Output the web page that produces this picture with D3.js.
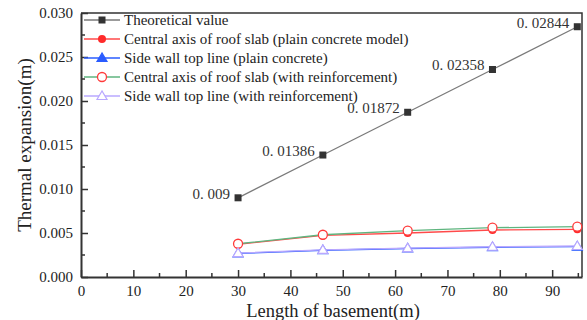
<!DOCTYPE html>
<html lang="en">
<head>
<meta charset="UTF-8" />
<title>Thermal expansion vs length of basement</title>
<script src="https://d3js.org/d3.v7.min.js"></script>
<style>
  body { margin: 0; background: #fff; }
</style>
</head>
<body>
<svg width="587" height="320"></svg>
<script>
// Data
const lengths = [30, 46.2, 62.4, 78.6, 94.8];
const theoretical = [0.009, 0.01386, 0.01872, 0.02358, 0.02844];
const roofPlain = [0.00372, 0.00472, 0.00500, 0.00534, 0.00542];
const wallPlain = [0.00268, 0.00304, 0.00324, 0.00338, 0.00345];
const roofReinf = [0.00378, 0.00480, 0.00526, 0.00560, 0.00572];
const wallReinf = [0.00272, 0.00308, 0.00328, 0.00344, 0.00352];
const pointLabels = ["0. 009", "0. 01386", "0. 01872", "0. 02358", "0. 02844"];

const series = [
  { name: "Theoretical value", values: theoretical, line: "#7a7a7a", marker: "square" },
  { name: "Central axis of roof slab (plain concrete model)", values: roofPlain, line: "#ff4a4a", marker: "circle" },
  { name: "Side wall top line (plain concrete)", values: wallPlain, line: "#2a5cff", marker: "triangle" },
  { name: "Central axis of roof slab (with reinforcement)", values: roofReinf, line: "#5fb57f", marker: "opencircle" },
  { name: "Side wall top line (with reinforcement)", values: wallReinf, line: "#b9a8ff", marker: "opentriangle" }
];

const FONT = "'Liberation Serif', 'DejaVu Serif', serif";
const svg = d3.select("svg").style("font-family", FONT);
const M = { left: 81, right: 5, top: 13, bottom: 43 };
const W = 587, H = 320;

const x = d3.scaleLinear().domain([0, 95.7]).range([M.left, W - M.right]);
const y = d3.scaleLinear().domain([0, 0.030]).range([H - M.bottom, M.top]);

// frame top/right
svg.append("path")
  .attr("d", `M${M.left},${M.top}H${W - M.right}V${H - M.bottom}`)
  .attr("fill", "none").attr("stroke", "#333").attr("stroke-width", 1.5);

// minor ticks
const g = svg.append("g");
d3.range(5, 96, 10).forEach(v => {
  g.append("line").attr("x1", x(v)).attr("x2", x(v))
    .attr("y1", H - M.bottom).attr("y2", H - M.bottom - 4)
    .attr("stroke", "#333").attr("stroke-width", 1.5);
});
d3.range(0.0025, 0.03, 0.005).forEach(v => {
  g.append("line").attr("x1", M.left).attr("x2", M.left + 4)
    .attr("y1", y(v)).attr("y2", y(v))
    .attr("stroke", "#333").attr("stroke-width", 1.5);
});

// axes
const xAxis = svg.append("g").attr("transform", `translate(0,${H - M.bottom})`)
  .call(d3.axisBottom(x).tickValues(d3.range(0, 91, 10)).tickSizeInner(-7).tickSizeOuter(0).tickPadding(8));
const yAxis = svg.append("g").attr("transform", `translate(${M.left},0)`)
  .call(d3.axisLeft(y).tickValues(d3.range(0, 0.0301, 0.005)).tickFormat(d3.format(".3f"))
    .tickSizeInner(-7).tickSizeOuter(0).tickPadding(8));
[xAxis, yAxis].forEach(a => {
  a.select(".domain").attr("stroke", "#333").attr("stroke-width", 2);
  a.selectAll(".tick line").attr("stroke", "#333").attr("stroke-width", 1.5);
  a.selectAll(".tick text").style("font-family", FONT).style("font-size", "15px").attr("fill", "#222");
});

// axis titles
svg.append("text").attr("x", 333).attr("y", 317).attr("text-anchor", "middle")
  .attr("font-size", 18.5).attr("fill", "#222").text("Length of basement(m)");
svg.append("text").attr("transform", `translate(31,145) rotate(-90)`)
  .attr("text-anchor", "middle").attr("font-size", 19).attr("fill", "#222").text("Thermal expansion(m)");

function drawMarker(sel, type, color, px, py) {
  if (type === "square") {
    sel.append("rect").attr("x", px - 3.5).attr("y", py - 3.5).attr("width", 7).attr("height", 7).attr("fill", "#333");
  } else if (type === "circle") {
    sel.append("circle").attr("cx", px).attr("cy", py).attr("r", 4).attr("fill", "#ff2a2a");
  } else if (type === "opencircle") {
    sel.append("circle").attr("cx", px).attr("cy", py).attr("r", 4.5).attr("fill", "#fff").attr("stroke", "#ff3a3a").attr("stroke-width", 1.3);
  } else {
    const s = 5;
    const pts = [[px, py - s], [px - s, py + s * 0.7], [px + s, py + s * 0.7]];
    const filled = type === "triangle";
    sel.append("polygon").attr("points", pts.map(p => p.join(",")).join(" "))
      .attr("fill", filled ? "#2a5cff" : "#fff")
      .attr("stroke", filled ? "#2a5cff" : "#b9a8ff").attr("stroke-width", 1.2);
  }
}

// lines and markers
const line = d3.line().x((d, i) => x(lengths[i])).y(d => y(d));
series.forEach(s => {
  svg.append("path").datum(s.values).attr("d", line)
    .attr("fill", "none").attr("stroke", s.line).attr("stroke-width", 1.3);
});
series.forEach(s => {
  const mg = svg.append("g");
  s.values.forEach((v, i) => drawMarker(mg, s.marker, s.line, x(lengths[i]), y(v)));
});

// point labels on the theoretical series
svg.append("g").selectAll("text").data(theoretical).join("text")
  .attr("x", (d, i) => x(lengths[i]) - 8)
  .attr("y", (d, i) => y(d) + 1)
  .attr("text-anchor", "end").attr("font-size", 15).attr("fill", "#333")
  .text((d, i) => pointLabels[i]);

// legend
const lg = svg.append("g");
series.forEach((s, i) => {
  const ly = 20 + i * 19;
  lg.append("line").attr("x1", 84).attr("x2", 120).attr("y1", ly).attr("y2", ly)
    .attr("stroke", s.line).attr("stroke-width", 1.3);
  drawMarker(lg, s.marker, s.line, 102, ly);
  lg.append("text").attr("x", 124).attr("y", ly + 5).attr("font-size", 15).attr("fill", "#222").text(s.name);
});
</script>
</body>
</html>
